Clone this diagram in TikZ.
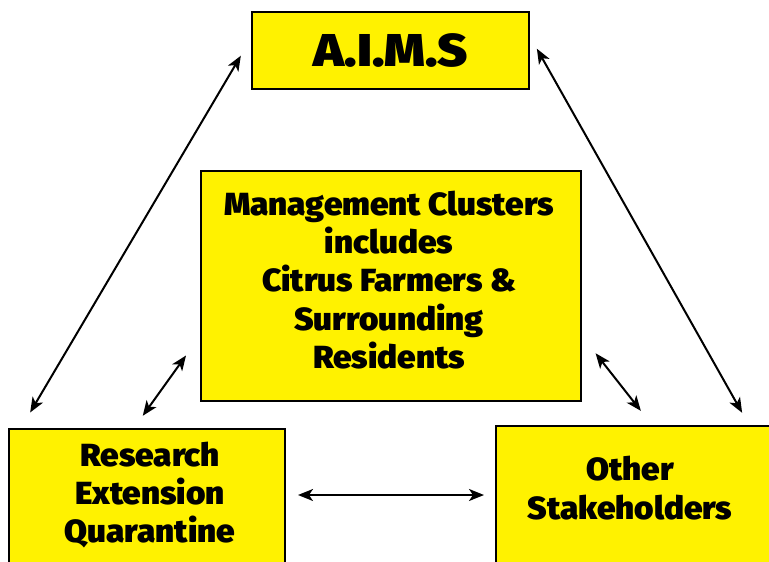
\documentclass[tikz,border=0pt]{standalone}
\usepackage{fontspec}
\usepackage{tikz}
\usetikzlibrary{arrows.meta}
\IfFontExistsTF{Fira Sans Black}
  {\newfontfamily\boxfont{Fira Sans Black}[FakeStretch=1.04]
   \newfontfamily\titlefont{Fira Sans Black}[FakeStretch=1.12]}
  {\newfontfamily\boxfont{Liberation Sans}[UprightFont={* Bold}]
   \newfontfamily\titlefont{Liberation Sans}[UprightFont={* Bold}]}
\definecolor{aimsyellow}{RGB}{255,242,0}
\tikzstyle{box_yellow} = [rectangle, draw, line width=2pt, fill=aimsyellow, anchor=north west, inner sep=0pt]
\tikzstyle{box_text} = [align=center, font=\boxfont\fontsize{32}{38.3}\selectfont]
\tikzstyle{edge_both} = [{Stealth[length=15pt,width=12pt,inset=4pt]}-{Stealth[length=15pt,width=12pt,inset=4pt]}, line width=2pt]

\begin{document}
\begin{tikzpicture}[x=1pt,y=-1pt]
\path[use as bounding box, clip] (0,0) rectangle (769,562);

\node (aims) at (251,11) [box_yellow, minimum width=277pt, minimum height=77pt, font=\titlefont\fontsize{46}{50}\selectfont] {A.I.M.S};
\node (mgmt) at (200,170) [box_yellow, minimum width=380pt, minimum height=230pt] {};
\node (research) at (8,428) [box_yellow, minimum width=276pt, minimum height=150pt] {};
\node (other) at (495,425) [box_yellow, minimum width=290pt, minimum height=150pt] {};
\node (mgmt_txt) at (389,280) [box_text] {Management Clusters\\includes\\Citrus Farmers \&\\Surrounding\\Residents};
\node (research_txt) at (150,495) [box_text] {Research\\Extension\\Quarantine};
\node (other_txt) at (630,488) [box_text] {Other\\Stakeholders};

\draw[edge_both, shorten <=20pt, shorten >=18pt] ([yshift=12pt]aims.west) -- ([xshift=13pt]research.north west);
\draw[edge_both, shorten <=14pt, shorten >=14pt] ([yshift=14pt]aims.east) -- ([xshift=254pt]other.north west);
\draw[edge_both, shorten <=24pt, shorten >=15pt] ([yshift=-50pt]mgmt.west) -- ([xshift=126pt]research.north west);
\draw[edge_both, shorten <=22pt, shorten >=18pt] ([yshift=-50pt]mgmt.east) -- ([xshift=157pt]other.north west);
\draw[edge_both, shorten <=12pt, shorten >=11pt] ([yshift=-67pt]research.north east) -- ([yshift=-70pt]other.north west);
\end{tikzpicture}
\end{document}
